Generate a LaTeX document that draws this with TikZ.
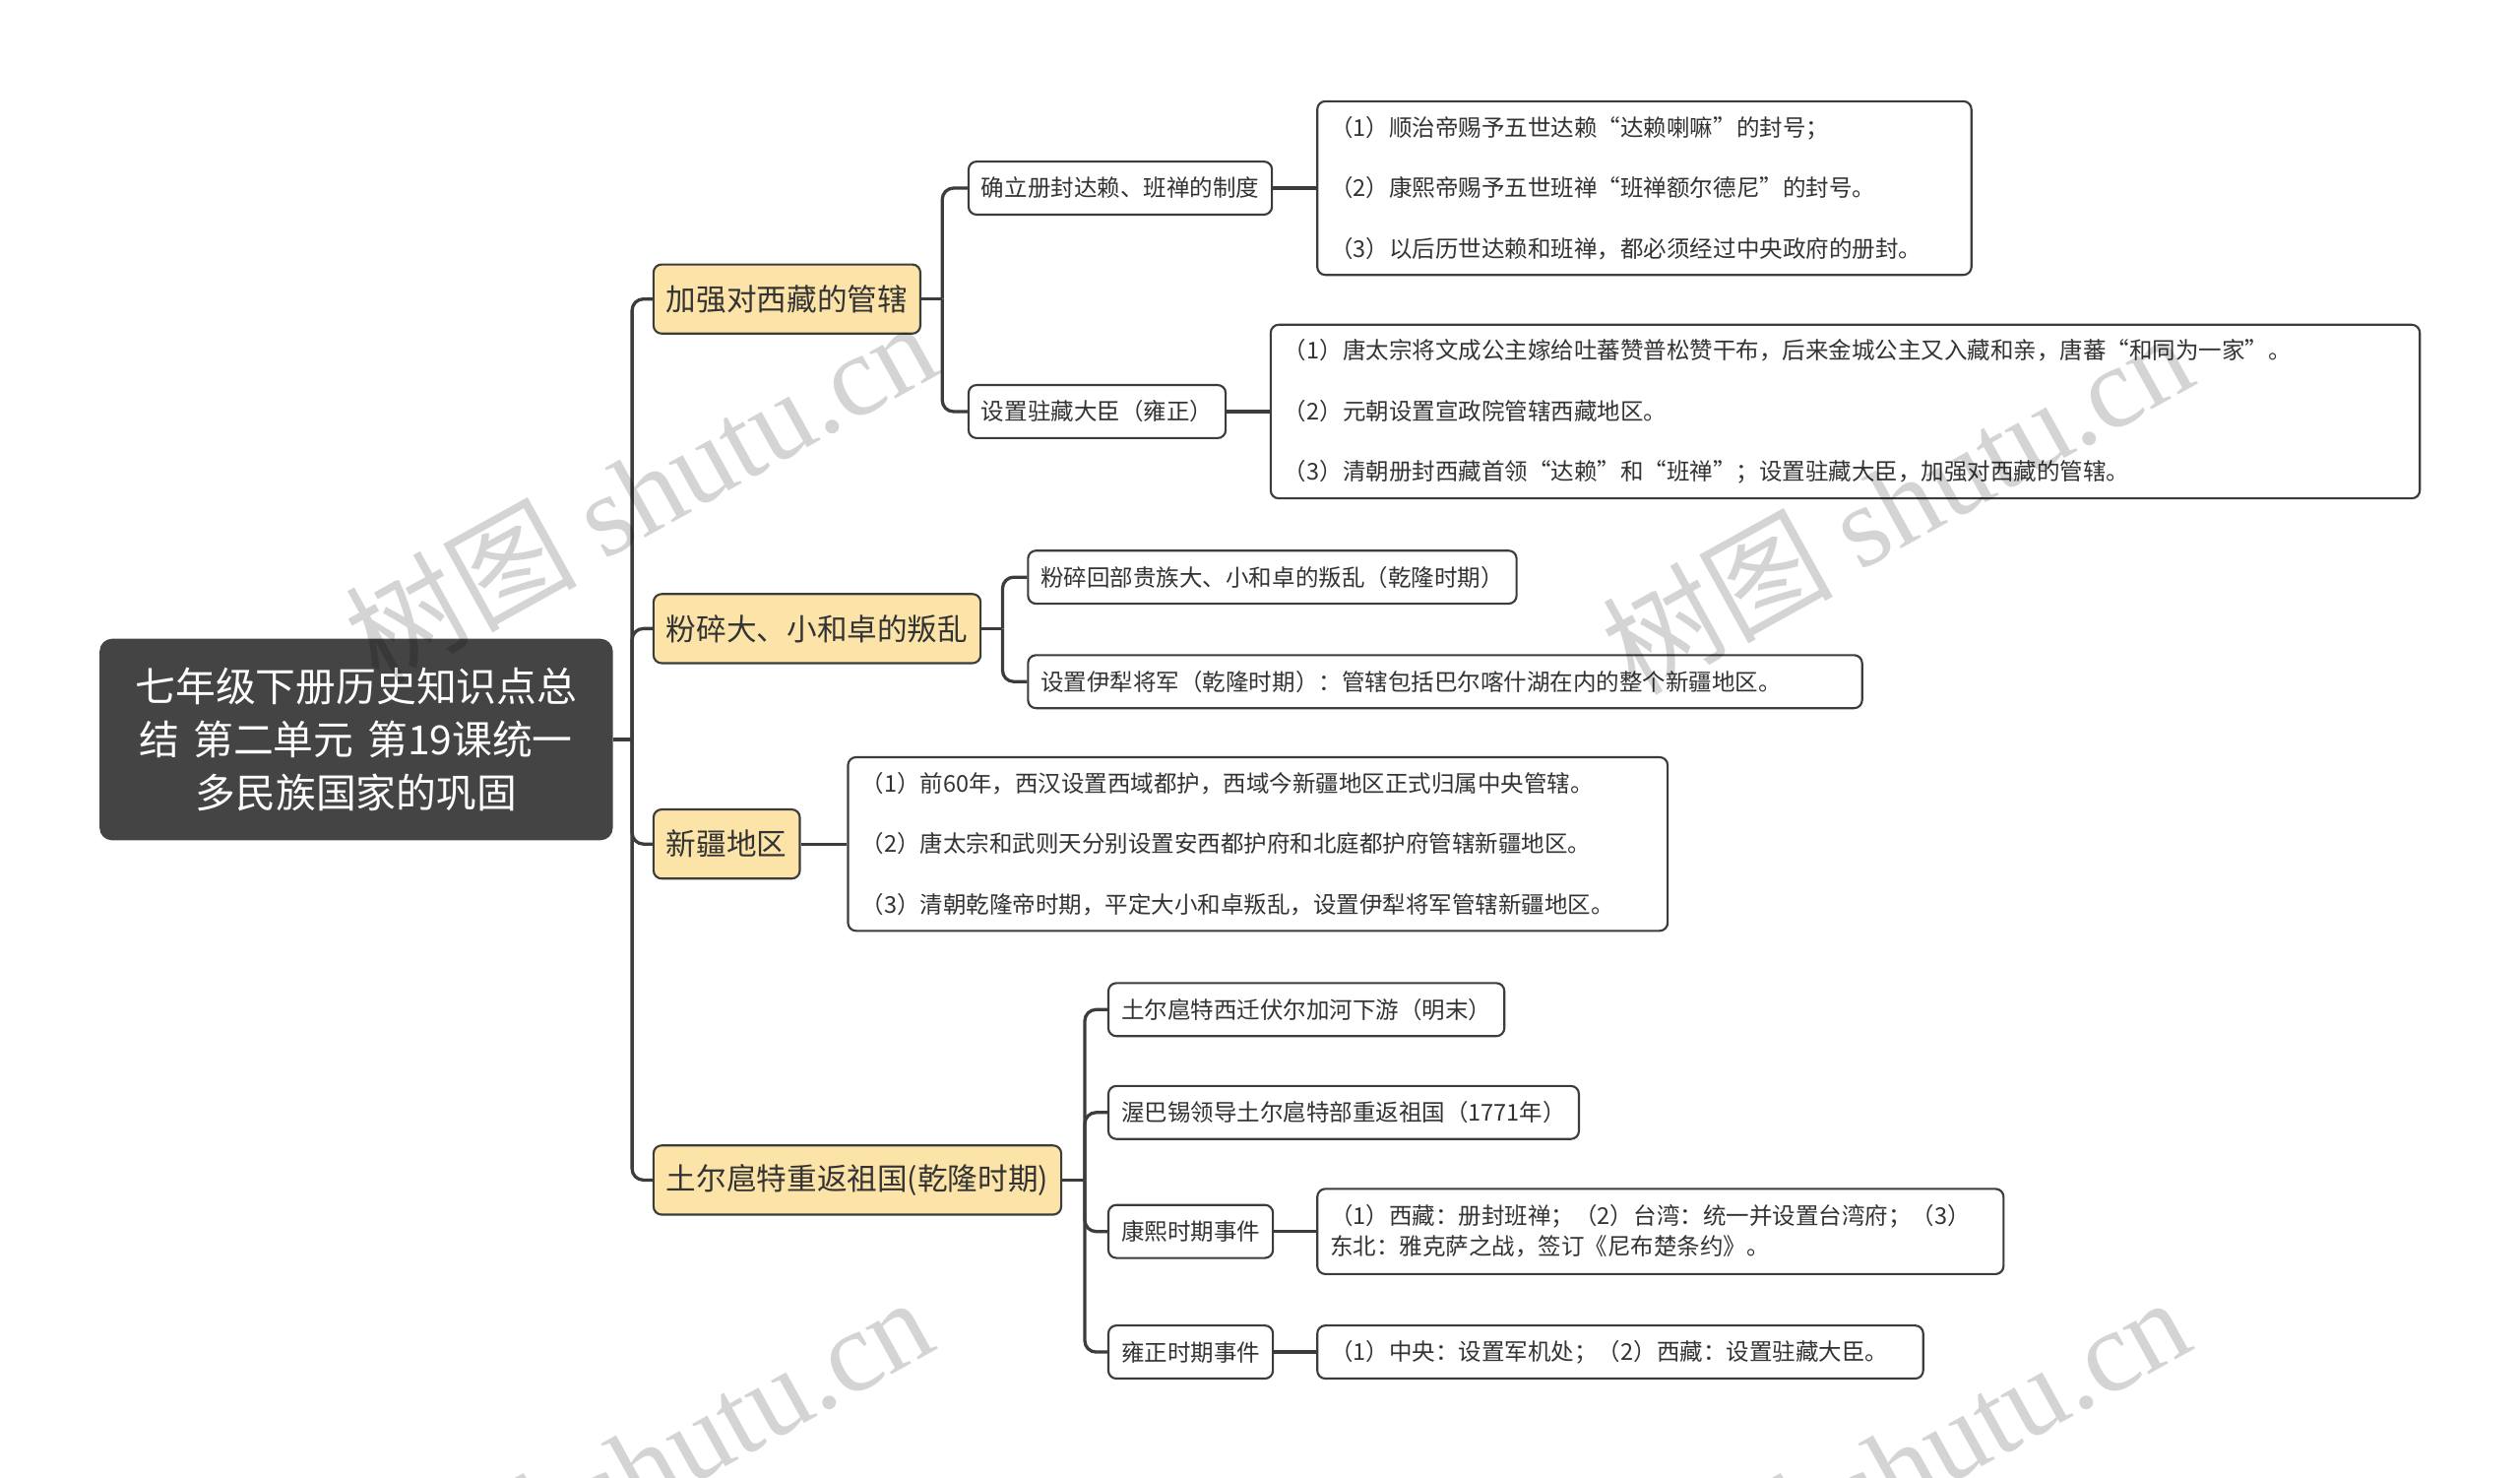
\documentclass[tikz,border=0pt]{standalone}
\usepackage{fontspec}
\setmainfont{Noto Sans CJK SC}
\newfontfamily\wmfont{Liberation Serif}
\definecolor{rootfill}{HTML}{444444}
\definecolor{topicfill}{HTML}{FCE4A9}
\definecolor{edge}{HTML}{3C3C3C}
\definecolor{ink}{HTML}{333333}
\tikzset{
  box/.style={draw=edge, line width=1.3pt, rounded corners=5pt, inner xsep=8pt, inner ysep=0pt, anchor=west, text=ink, align=left},
  rootbox/.style={box, fill=rootfill, draw=rootfill, rounded corners=7pt, text=white, align=center, text width=302pt, minimum height=124pt, font=\fontsize{25}{33}\selectfont},
  topicbox/.style={box, fill=topicfill, minimum height=43pt, font=\fontsize{18.75}{22}\selectfont},
  subbox/.style={box, fill=white, minimum height=33pt, font=\fontsize{14.4}{19}\selectfont},
  leafbox/.style={subbox, minimum height=108pt},
  link/.style={draw=edge, line width=2pt},
  wmark/.style={text=black, opacity=0.17, rotate=29, font=\fontsize{72}{72}\selectfont}
}
\begin{document}
\begin{tikzpicture}[x=1pt, y=-1pt]
            \useasboundingbox (0, 0) rectangle (1568, 919);
            \node[rootbox] (root) at (62, 460) {七年级下册历史知识点总\\结 第二单元 第19课统一\\多民族国家的巩固};
            \node[topicbox] (t1) at (406, 186) {加强对西藏的管辖};
            \node[topicbox] (t2) at (406, 391) {粉碎大、小和卓的叛乱};
            \node[topicbox] (t3) at (406, 525) {新疆地区};
            \node[topicbox] (t4) at (406, 734) {土尔扈特重返祖国(乾隆时期)};
            \node[subbox] (a1) at (602, 117) {确立册封达赖、班禅的制度};
            \node[subbox] (a2) at (602, 256) {设置驻藏大臣（雍正）};
            \node[subbox] (b1) at (639, 359) {粉碎回部贵族大、小和卓的叛乱（乾隆时期）};
            \node[subbox, text width=503pt] (b2) at (639, 424) {设置伊犁将军（乾隆时期）：管辖包括巴尔喀什湖在内的整个新疆地区。};
            \node[subbox] (d1) at (689, 628) {土尔扈特西迁伏尔加河下游（明末）};
            \node[subbox] (d2) at (689, 692) {渥巴锡领导土尔扈特部重返祖国（1771年）};
            \node[subbox] (d3) at (689, 766) {康熙时期事件};
            \node[subbox] (d4) at (689, 841) {雍正时期事件};
            \node[leafbox, text width=391pt] (la1) at (819, 117) {（1）顺治帝赐予五世达赖“达赖喇嘛”的封号；\\[18.5pt]（2）康熙帝赐予五世班禅“班禅额尔德尼”的封号。\\[18.5pt]（3）以后历世达赖和班禅，都必须经过中央政府的册封。};
            \node[leafbox, text width=699pt] (la2) at (790, 256) {（1）唐太宗将文成公主嫁给吐蕃赞普松赞干布，后来金城公主又入藏和亲，唐蕃“和同为一家”。\\[18.5pt]（2）元朝设置宣政院管辖西藏地区。\\[18.5pt]（3）清朝册封西藏首领“达赖”和“班禅”；设置驻藏大臣，加强对西藏的管辖。};
            \node[leafbox, text width=494pt] (lc) at (527, 525) {（1）前60年，西汉设置西域都护，西域今新疆地区正式归属中央管辖。\\[18.5pt]（2）唐太宗和武则天分别设置安西都护府和北庭都护府管辖新疆地区。\\[18.5pt]（3）清朝乾隆帝时期，平定大小和卓叛乱，设置伊犁将军管辖新疆地区。};
            \node[subbox, text width=411pt, minimum height=53pt] (ld3) at (819, 766) {（1）西藏：册封班禅；（2）台湾：统一并设置台湾府；（3）\\东北：雅克萨之战，签订《尼布楚条约》。};
            \node[subbox, text width=361pt] (ld4) at (819, 841) {（1）中央：设置军机处；（2）西藏：设置驻藏大臣。};
            % branches
            \coordinate (j0) at ([xshift=12pt]root.east);
            \coordinate (j1) at ([xshift=13pt]t1.east);
            \coordinate (j2) at ([xshift=13pt]t2.east);
            \coordinate (j4) at ([xshift=14pt]t4.east);
            \draw[link] (root.east) -- (j0);
            \foreach \n in {t1, t2, t3, t4}
                \draw[link, rounded corners=7pt] (j0) |- (\n.west);
            \draw[link] (t1.east) -- (j1);
            \foreach \n in {a1, a2}
                \draw[link, rounded corners=7pt] (j1) |- (\n.west);
            \draw[link] (t2.east) -- (j2);
            \foreach \n in {b1, b2}
                \draw[link, rounded corners=7pt] (j2) |- (\n.west);
            \draw[link] (t4.east) -- (j4);
            \foreach \n in {d1, d2, d3, d4}
                \draw[link, rounded corners=7pt] (j4) |- (\n.west);
            \draw[link] (t3.east) -- (lc.west);
            \draw[link] (a1.east) -- (la1.west);
            \draw[link] (a2.east) -- (la2.west);
            \draw[link] (d3.east) -- (ld3.west);
            \draw[link] (d4.east) -- (ld4.west);
            % watermark
            \node[wmark] (wm1) at (398, 305) {树图 {\wmfont shutu.cn}};
            \node[wmark] (wm2) at (1180, 312) {树图 {\wmfont shutu.cn}};
            \node[wmark] (wm3) at (396, 912) {树图 {\wmfont shutu.cn}};
            \node[wmark] (wm4) at (1178, 912) {树图 {\wmfont shutu.cn}};
\end{tikzpicture}
\end{document}
